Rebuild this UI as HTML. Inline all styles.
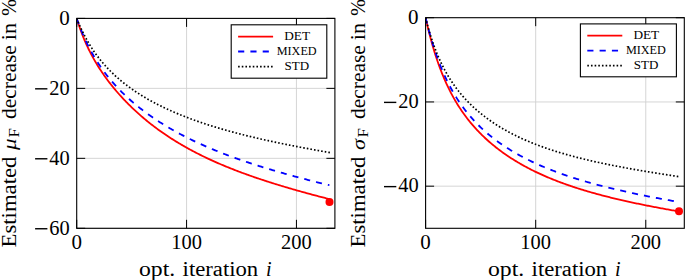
<!DOCTYPE html>
<html><head><meta charset="utf-8"><style>
html,body{margin:0;padding:0;background:#fff;width:685px;height:280px;overflow:hidden}
svg{display:block}
text{font-family:"Liberation Serif",serif;fill:#000}
</style></head><body>
<svg width="685" height="280" viewBox="0 0 685 280">
<rect width="685" height="280" fill="#fff"/>
<line x1="186.57" y1="18.40" x2="186.57" y2="228.30" stroke="#d0d0d0" stroke-width="0.9"/>
<line x1="296.44" y1="18.40" x2="296.44" y2="228.30" stroke="#d0d0d0" stroke-width="0.9"/>
<line x1="76.70" y1="88.37" x2="334.90" y2="88.37" stroke="#d0d0d0" stroke-width="0.9"/>
<line x1="76.70" y1="158.33" x2="334.90" y2="158.33" stroke="#d0d0d0" stroke-width="0.9"/>
<line x1="76.70" y1="228.30" x2="334.90" y2="228.30" stroke="#d0d0d0" stroke-width="0.9"/>
<line x1="76.70" y1="228.30" x2="76.70" y2="219.80" stroke="#000" stroke-width="1.0"/>
<line x1="76.70" y1="18.40" x2="76.70" y2="26.90" stroke="#000" stroke-width="1.0"/>
<line x1="186.57" y1="228.30" x2="186.57" y2="219.80" stroke="#000" stroke-width="1.0"/>
<line x1="186.57" y1="18.40" x2="186.57" y2="26.90" stroke="#000" stroke-width="1.0"/>
<line x1="296.44" y1="228.30" x2="296.44" y2="219.80" stroke="#000" stroke-width="1.0"/>
<line x1="296.44" y1="18.40" x2="296.44" y2="26.90" stroke="#000" stroke-width="1.0"/>
<line x1="76.70" y1="18.40" x2="85.20" y2="18.40" stroke="#000" stroke-width="1.0"/>
<line x1="334.90" y1="18.40" x2="326.40" y2="18.40" stroke="#000" stroke-width="1.0"/>
<line x1="76.70" y1="88.37" x2="85.20" y2="88.37" stroke="#000" stroke-width="1.0"/>
<line x1="334.90" y1="88.37" x2="326.40" y2="88.37" stroke="#000" stroke-width="1.0"/>
<line x1="76.70" y1="158.33" x2="85.20" y2="158.33" stroke="#000" stroke-width="1.0"/>
<line x1="334.90" y1="158.33" x2="326.40" y2="158.33" stroke="#000" stroke-width="1.0"/>
<line x1="76.70" y1="228.30" x2="85.20" y2="228.30" stroke="#000" stroke-width="1.0"/>
<line x1="334.90" y1="228.30" x2="326.40" y2="228.30" stroke="#000" stroke-width="1.0"/>
<clipPath id="c0"><rect x="76.7" y="18.4" width="258.2" height="219.9"/></clipPath>
<polyline clip-path="url(#c0)" points="76.70,18.40 77.80,21.92 78.90,25.26 80.00,28.44 81.09,31.48 82.19,34.38 83.29,37.16 84.39,39.82 85.49,42.37 86.59,44.83 87.69,47.21 88.79,49.49 89.88,51.70 90.98,53.84 92.08,55.92 93.18,57.93 94.28,59.88 95.38,61.79 96.48,63.64 97.58,65.44 98.67,67.20 99.77,68.92 100.87,70.60 101.97,72.24 103.07,73.85 104.17,75.42 105.27,76.97 106.37,78.48 107.46,79.96 108.56,81.42 109.66,82.85 110.76,84.26 111.86,85.64 112.96,87.00 114.06,88.34 115.16,89.66 116.25,90.96 117.35,92.23 118.45,93.49 119.55,94.73 120.65,95.95 121.75,97.16 122.85,98.35 123.95,99.52 125.04,100.67 126.14,101.81 127.24,102.94 128.34,104.05 129.44,105.14 130.54,106.22 131.64,107.29 132.73,108.34 133.83,109.38 134.93,110.41 136.03,111.43 137.13,112.43 138.23,113.42 139.33,114.40 140.43,115.37 141.52,116.32 142.62,117.27 143.72,118.20 144.82,119.12 145.92,120.03 147.02,120.94 148.12,121.83 149.22,122.71 150.31,123.58 151.41,124.44 152.51,125.29 153.61,126.13 154.71,126.96 155.81,127.79 156.91,128.60 158.01,129.41 159.10,130.20 160.20,130.99 161.30,131.77 162.40,132.54 163.50,133.30 164.60,134.06 165.70,134.81 166.80,135.55 167.89,136.28 168.99,137.00 170.09,137.72 171.19,138.43 172.29,139.13 173.39,139.82 174.49,140.51 175.59,141.19 176.68,141.86 177.78,142.53 178.88,143.19 179.98,143.85 181.08,144.49 182.18,145.14 183.28,145.77 184.37,146.40 185.47,147.02 186.57,147.64 187.67,148.25 188.77,148.86 189.87,149.46 190.97,150.05 192.07,150.64 193.16,151.22 194.26,151.80 195.36,152.37 196.46,152.94 197.56,153.50 198.66,154.06 199.76,154.61 200.86,155.16 201.95,155.70 203.05,156.24 204.15,156.77 205.25,157.30 206.35,157.82 207.45,158.34 208.55,158.86 209.65,159.37 210.74,159.87 211.84,160.38 212.94,160.88 214.04,161.37 215.14,161.86 216.24,162.35 217.34,162.83 218.44,163.31 219.53,163.78 220.63,164.25 221.73,164.72 222.83,165.18 223.93,165.64 225.03,166.10 226.13,166.55 227.23,167.00 228.32,167.45 229.42,167.89 230.52,168.33 231.62,168.77 232.72,169.20 233.82,169.63 234.92,170.06 236.01,170.48 237.11,170.90 238.21,171.32 239.31,171.74 240.41,172.15 241.51,172.56 242.61,172.97 243.71,173.37 244.80,173.77 245.90,174.17 247.00,174.57 248.10,174.96 249.20,175.35 250.30,175.74 251.40,176.13 252.50,176.51 253.59,176.90 254.69,177.28 255.79,177.65 256.89,178.03 257.99,178.40 259.09,178.77 260.19,179.14 261.29,179.50 262.38,179.87 263.48,180.23 264.58,180.59 265.68,180.95 266.78,181.30 267.88,181.66 268.98,182.01 270.08,182.36 271.17,182.71 272.27,183.05 273.37,183.40 274.47,183.74 275.57,184.08 276.67,184.42 277.77,184.76 278.87,185.10 279.96,185.43 281.06,185.76 282.16,186.09 283.26,186.42 284.36,186.75 285.46,187.08 286.56,187.40 287.65,187.73 288.75,188.05 289.85,188.37 290.95,188.69 292.05,189.01 293.15,189.32 294.25,189.64 295.35,189.95 296.44,190.26 297.54,190.57 298.64,190.88 299.74,191.19 300.84,191.50 301.94,191.81 303.04,192.11 304.14,192.41 305.23,192.72 306.33,193.02 307.43,193.32 308.53,193.62 309.63,193.91 310.73,194.21 311.83,194.51 312.93,194.80 314.02,195.10 315.12,195.39 316.22,195.68 317.32,195.97 318.42,196.26 319.52,196.55 320.62,196.84 321.72,197.12 322.81,197.41 323.91,197.69 325.01,197.98 326.11,198.26 327.21,198.54 328.31,198.83 329.41,199.11" fill="none" stroke="#ff0000" stroke-width="1.8" stroke-dasharray="none" stroke-linecap="butt" stroke-linejoin="round"/>
<circle cx="329.5" cy="202.0" r="4.0" fill="#ff0000"/>
<polyline clip-path="url(#c0)" points="76.70,18.40 77.80,21.50 78.90,24.48 80.00,27.35 81.09,30.12 82.19,32.78 83.29,35.36 84.39,37.84 85.49,40.24 86.59,42.57 87.69,44.81 88.79,46.99 89.88,49.10 90.98,51.15 92.08,53.14 93.18,55.07 94.28,56.94 95.38,58.77 96.48,60.54 97.58,62.27 98.67,63.96 99.77,65.60 100.87,67.21 101.97,68.77 103.07,70.30 104.17,71.80 105.27,73.26 106.37,74.69 107.46,76.09 108.56,77.46 109.66,78.80 110.76,80.12 111.86,81.41 112.96,82.68 114.06,83.92 115.16,85.14 116.25,86.34 117.35,87.52 118.45,88.67 119.55,89.81 120.65,90.93 121.75,92.03 122.85,93.11 123.95,94.18 125.04,95.23 126.14,96.26 127.24,97.28 128.34,98.29 129.44,99.28 130.54,100.25 131.64,101.21 132.73,102.16 133.83,103.10 134.93,104.02 136.03,104.93 137.13,105.83 138.23,106.72 139.33,107.59 140.43,108.46 141.52,109.31 142.62,110.16 143.72,110.99 144.82,111.81 145.92,112.63 147.02,113.43 148.12,114.23 149.22,115.01 150.31,115.79 151.41,116.56 152.51,117.31 153.61,118.07 154.71,118.81 155.81,119.54 156.91,120.27 158.01,120.99 159.10,121.70 160.20,122.40 161.30,123.10 162.40,123.79 163.50,124.47 164.60,125.15 165.70,125.81 166.80,126.48 167.89,127.13 168.99,127.78 170.09,128.42 171.19,129.06 172.29,129.69 173.39,130.31 174.49,130.93 175.59,131.54 176.68,132.14 177.78,132.74 178.88,133.34 179.98,133.93 181.08,134.51 182.18,135.09 183.28,135.66 184.37,136.23 185.47,136.79 186.57,137.35 187.67,137.90 188.77,138.45 189.87,139.00 190.97,139.53 192.07,140.07 193.16,140.60 194.26,141.12 195.36,141.64 196.46,142.16 197.56,142.67 198.66,143.18 199.76,143.68 200.86,144.18 201.95,144.67 203.05,145.17 204.15,145.65 205.25,146.14 206.35,146.62 207.45,147.09 208.55,147.56 209.65,148.03 210.74,148.50 211.84,148.96 212.94,149.41 214.04,149.87 215.14,150.32 216.24,150.77 217.34,151.21 218.44,151.65 219.53,152.09 220.63,152.52 221.73,152.95 222.83,153.38 223.93,153.81 225.03,154.23 226.13,154.65 227.23,155.06 228.32,155.48 229.42,155.89 230.52,156.29 231.62,156.70 232.72,157.10 233.82,157.50 234.92,157.90 236.01,158.29 237.11,158.68 238.21,159.07 239.31,159.46 240.41,159.84 241.51,160.23 242.61,160.61 243.71,160.98 244.80,161.36 245.90,161.73 247.00,162.10 248.10,162.47 249.20,162.83 250.30,163.20 251.40,163.56 252.50,163.92 253.59,164.28 254.69,164.63 255.79,164.98 256.89,165.34 257.99,165.68 259.09,166.03 260.19,166.38 261.29,166.72 262.38,167.06 263.48,167.40 264.58,167.74 265.68,168.08 266.78,168.41 267.88,168.74 268.98,169.08 270.08,169.41 271.17,169.73 272.27,170.06 273.37,170.38 274.47,170.71 275.57,171.03 276.67,171.35 277.77,171.67 278.87,171.98 279.96,172.30 281.06,172.61 282.16,172.93 283.26,173.24 284.36,173.55 285.46,173.85 286.56,174.16 287.65,174.47 288.75,174.77 289.85,175.07 290.95,175.38 292.05,175.68 293.15,175.98 294.25,176.27 295.35,176.57 296.44,176.87 297.54,177.16 298.64,177.45 299.74,177.75 300.84,178.04 301.94,178.33 303.04,178.62 304.14,178.90 305.23,179.19 306.33,179.47 307.43,179.76 308.53,180.04 309.63,180.33 310.73,180.61 311.83,180.89 312.93,181.17 314.02,181.44 315.12,181.72 316.22,182.00 317.32,182.27 318.42,182.55 319.52,182.82 320.62,183.10 321.72,183.37 322.81,183.64 323.91,183.91 325.01,184.18 326.11,184.45 327.21,184.72 328.31,184.98 329.41,185.25" fill="none" stroke="#0000ff" stroke-width="1.8" stroke-dasharray="6.08 6.07" stroke-linecap="butt" stroke-linejoin="round"/>
<polyline clip-path="url(#c0)" points="76.70,18.40 77.80,21.11 78.90,23.72 80.00,26.23 81.11,28.64 82.21,30.97 83.31,33.21 84.41,35.38 85.51,37.46 86.61,39.48 87.72,41.43 88.82,43.31 89.92,45.14 91.02,46.91 92.12,48.62 93.22,50.28 94.33,51.90 95.43,53.46 96.53,54.98 97.63,56.47 98.73,57.91 99.83,59.31 100.93,60.67 102.04,62.00 103.14,63.30 104.24,64.57 105.34,65.80 106.44,67.01 107.54,68.19 108.65,69.34 109.75,70.47 110.85,71.57 111.95,72.65 113.05,73.71 114.15,74.75 115.26,75.76 116.36,76.76 117.46,77.74 118.56,78.69 119.66,79.63 120.76,80.56 121.87,81.46 122.97,82.35 124.07,83.23 125.17,84.09 126.27,84.94 127.37,85.77 128.47,86.59 129.58,87.39 130.68,88.18 131.78,88.96 132.88,89.73 133.98,90.49 135.08,91.23 136.19,91.97 137.29,92.69 138.39,93.41 139.49,94.11 140.59,94.80 141.69,95.49 142.80,96.16 143.90,96.82 145.00,97.48 146.10,98.13 147.20,98.77 148.30,99.40 149.40,100.02 150.51,100.64 151.61,101.24 152.71,101.84 153.81,102.43 154.91,103.02 156.01,103.60 157.12,104.17 158.22,104.73 159.32,105.29 160.42,105.84 161.52,106.38 162.62,106.92 163.73,107.45 164.83,107.98 165.93,108.50 167.03,109.01 168.13,109.52 169.23,110.02 170.34,110.52 171.44,111.01 172.54,111.49 173.64,111.97 174.74,112.45 175.84,112.92 176.94,113.39 178.05,113.85 179.15,114.30 180.25,114.76 181.35,115.20 182.45,115.65 183.55,116.08 184.66,116.52 185.76,116.95 186.86,117.37 187.96,117.79 189.06,118.21 190.16,118.62 191.27,119.03 192.37,119.44 193.47,119.84 194.57,120.23 195.67,120.63 196.77,121.02 197.87,121.40 198.98,121.79 200.08,122.16 201.18,122.54 202.28,122.91 203.38,123.28 204.48,123.65 205.59,124.01 206.69,124.37 207.79,124.73 208.89,125.08 209.99,125.43 211.09,125.78 212.20,126.12 213.30,126.46 214.40,126.80 215.50,127.14 216.60,127.47 217.70,127.80 218.81,128.13 219.91,128.45 221.01,128.78 222.11,129.10 223.21,129.41 224.31,129.73 225.41,130.04 226.52,130.35 227.62,130.66 228.72,130.97 229.82,131.27 230.92,131.57 232.02,131.87 233.13,132.17 234.23,132.46 235.33,132.75 236.43,133.04 237.53,133.33 238.63,133.62 239.74,133.90 240.84,134.19 241.94,134.47 243.04,134.74 244.14,135.02 245.24,135.30 246.34,135.57 247.45,135.84 248.55,136.11 249.65,136.38 250.75,136.64 251.85,136.91 252.95,137.17 254.06,137.43 255.16,137.69 256.26,137.95 257.36,138.21 258.46,138.46 259.56,138.71 260.67,138.97 261.77,139.22 262.87,139.47 263.97,139.71 265.07,139.96 266.17,140.20 267.28,140.45 268.38,140.69 269.48,140.93 270.58,141.17 271.68,141.41 272.78,141.65 273.88,141.88 274.99,142.12 276.09,142.35 277.19,142.58 278.29,142.81 279.39,143.04 280.49,143.27 281.60,143.50 282.70,143.73 283.80,143.95 284.90,144.18 286.00,144.40 287.10,144.62 288.21,144.84 289.31,145.06 290.41,145.28 291.51,145.50 292.61,145.72 293.71,145.93 294.81,146.15 295.92,146.36 297.02,146.58 298.12,146.79 299.22,147.00 300.32,147.21 301.42,147.42 302.53,147.63 303.63,147.84 304.73,148.05 305.83,148.26 306.93,148.46 308.03,148.67 309.14,148.87 310.24,149.08 311.34,149.28 312.44,149.48 313.54,149.69 314.64,149.89 315.74,150.09 316.85,150.29 317.95,150.49 319.05,150.69 320.15,150.88 321.25,151.08 322.35,151.28 323.46,151.47 324.56,151.67 325.66,151.86 326.76,152.06 327.86,152.25 328.96,152.44 330.07,152.64" fill="none" stroke="#000000" stroke-width="1.7" stroke-dasharray="1.6 2.046" stroke-linecap="butt" stroke-linejoin="round"/>
<rect x="76.70" y="18.40" width="258.20" height="209.90" fill="none" stroke="#000" stroke-width="1.1"/>
<rect x="231.2" y="24.8" width="95.60000000000002" height="53.400000000000006" fill="#fff" stroke="#000" stroke-width="1.1"/>
<line x1="238.1" y1="36.6" x2="273.1" y2="36.6" stroke="#ff0000" stroke-width="1.8" stroke-dasharray="none" stroke-linecap="butt"/>
<text x="284.20" y="40.0" font-size="13.4" textLength="25.8" lengthAdjust="spacingAndGlyphs">DET</text>
<line x1="238.1" y1="51.5" x2="273.1" y2="51.5" stroke="#0000ff" stroke-width="1.8" stroke-dasharray="6.15 6.15" stroke-linecap="butt"/>
<text x="276.70" y="54.8" font-size="13.4" textLength="40.0" lengthAdjust="spacingAndGlyphs">MIXED</text>
<line x1="238.1" y1="66.6" x2="273.1" y2="66.6" stroke="#000000" stroke-width="1.7" stroke-dasharray="1.6 2.06" stroke-linecap="butt"/>
<text x="284.60" y="69.8" font-size="13.4" textLength="24.6" lengthAdjust="spacingAndGlyphs">STD</text>
<text x="69.70" y="24.70" text-anchor="end" font-size="21">0</text>
<text x="69.70" y="94.67" text-anchor="end" font-size="21" textLength="20.4" lengthAdjust="spacingAndGlyphs">20</text>
<rect x="35.10" y="88.12" width="12.30" height="1.4" fill="#000"/>
<text x="69.70" y="164.63" text-anchor="end" font-size="21" textLength="20.4" lengthAdjust="spacingAndGlyphs">40</text>
<rect x="35.10" y="158.08" width="12.30" height="1.4" fill="#000"/>
<text x="69.70" y="234.60" text-anchor="end" font-size="21" textLength="20.4" lengthAdjust="spacingAndGlyphs">60</text>
<rect x="35.10" y="228.05" width="12.30" height="1.4" fill="#000"/>
<text x="76.70" y="248.6" text-anchor="middle" font-size="21">0</text>
<text x="186.57" y="248.6" text-anchor="middle" font-size="21" textLength="30.7" lengthAdjust="spacingAndGlyphs">100</text>
<text x="296.44" y="248.6" text-anchor="middle" font-size="21" textLength="30.7" lengthAdjust="spacingAndGlyphs">200</text>
<text x="139.0" y="275.5" font-size="20.0" textLength="36.2" lengthAdjust="spacingAndGlyphs">opt.</text>
<text x="182.6" y="275.5" font-size="20.0" textLength="75.6" lengthAdjust="spacingAndGlyphs">iteration</text>
<text x="266.0" y="275.5" font-size="20.0" font-style="italic">i</text>
<g transform="translate(16.0,247.0) rotate(-90)" font-size="20.0">
<text x="-0.5" y="0" textLength="91.0" lengthAdjust="spacingAndGlyphs">Estimated</text>
<text x="97.0" y="0" textLength="11.5" lengthAdjust="spacingAndGlyphs" font-style="italic" font-size="18">μ</text>
<text x="109.6" y="3.2" textLength="9.4" lengthAdjust="spacingAndGlyphs" font-size="14.5">F</text>
<text x="128.0" y="0" textLength="73.8" lengthAdjust="spacingAndGlyphs">decrease</text>
<text x="206.8" y="0" textLength="17.2" lengthAdjust="spacingAndGlyphs">in</text>
<text x="231.0" y="0" textLength="17.0" lengthAdjust="spacingAndGlyphs" font-size="21">%</text>
</g>
<line x1="535.69" y1="17.70" x2="535.69" y2="228.30" stroke="#d0d0d0" stroke-width="0.9"/>
<line x1="645.77" y1="17.70" x2="645.77" y2="228.30" stroke="#d0d0d0" stroke-width="0.9"/>
<line x1="425.60" y1="101.94" x2="684.30" y2="101.94" stroke="#d0d0d0" stroke-width="0.9"/>
<line x1="425.60" y1="186.18" x2="684.30" y2="186.18" stroke="#d0d0d0" stroke-width="0.9"/>
<line x1="425.60" y1="228.30" x2="425.60" y2="219.80" stroke="#000" stroke-width="1.0"/>
<line x1="425.60" y1="17.70" x2="425.60" y2="26.20" stroke="#000" stroke-width="1.0"/>
<line x1="535.69" y1="228.30" x2="535.69" y2="219.80" stroke="#000" stroke-width="1.0"/>
<line x1="535.69" y1="17.70" x2="535.69" y2="26.20" stroke="#000" stroke-width="1.0"/>
<line x1="645.77" y1="228.30" x2="645.77" y2="219.80" stroke="#000" stroke-width="1.0"/>
<line x1="645.77" y1="17.70" x2="645.77" y2="26.20" stroke="#000" stroke-width="1.0"/>
<line x1="425.60" y1="17.70" x2="434.10" y2="17.70" stroke="#000" stroke-width="1.0"/>
<line x1="684.30" y1="17.70" x2="675.80" y2="17.70" stroke="#000" stroke-width="1.0"/>
<line x1="425.60" y1="101.94" x2="434.10" y2="101.94" stroke="#000" stroke-width="1.0"/>
<line x1="684.30" y1="101.94" x2="675.80" y2="101.94" stroke="#000" stroke-width="1.0"/>
<line x1="425.60" y1="186.18" x2="434.10" y2="186.18" stroke="#000" stroke-width="1.0"/>
<line x1="684.30" y1="186.18" x2="675.80" y2="186.18" stroke="#000" stroke-width="1.0"/>
<clipPath id="c349"><rect x="425.6" y="17.7" width="258.69999999999993" height="220.60000000000002"/></clipPath>
<polyline clip-path="url(#c349)" points="425.60,17.70 426.70,22.61 427.80,27.31 428.90,31.80 430.00,36.11 431.10,40.23 432.21,44.19 433.31,47.98 434.41,51.63 435.51,55.13 436.61,58.49 437.71,61.73 438.81,64.85 439.91,67.86 441.01,70.75 442.11,73.55 443.21,76.24 444.31,78.85 445.42,81.37 446.52,83.80 447.62,86.16 448.72,88.44 449.82,90.65 450.92,92.79 452.02,94.87 453.12,96.89 454.22,98.85 455.32,100.76 456.42,102.61 457.52,104.41 458.63,106.16 459.73,107.87 460.83,109.54 461.93,111.16 463.03,112.74 464.13,114.28 465.23,115.79 466.33,117.26 467.43,118.69 468.53,120.10 469.63,121.47 470.73,122.81 471.84,124.13 472.94,125.41 474.04,126.67 475.14,127.91 476.24,129.11 477.34,130.30 478.44,131.46 479.54,132.60 480.64,133.72 481.74,134.81 482.84,135.89 483.95,136.94 485.05,137.98 486.15,139.00 487.25,140.00 488.35,140.99 489.45,141.95 490.55,142.90 491.65,143.84 492.75,144.76 493.85,145.66 494.95,146.55 496.05,147.43 497.16,148.29 498.26,149.14 499.36,149.98 500.46,150.80 501.56,151.61 502.66,152.41 503.76,153.19 504.86,153.97 505.96,154.73 507.06,155.49 508.16,156.23 509.26,156.96 510.37,157.68 511.47,158.39 512.57,159.09 513.67,159.78 514.77,160.46 515.87,161.14 516.97,161.80 518.07,162.45 519.17,163.10 520.27,163.74 521.37,164.37 522.47,164.99 523.58,165.60 524.68,166.20 525.78,166.80 526.88,167.39 527.98,167.97 529.08,168.55 530.18,169.12 531.28,169.68 532.38,170.23 533.48,170.78 534.58,171.32 535.69,171.85 536.79,172.38 537.89,172.90 538.99,173.41 540.09,173.92 541.19,174.43 542.29,174.92 543.39,175.41 544.49,175.90 545.59,176.38 546.69,176.85 547.79,177.32 548.90,177.79 550.00,178.25 551.10,178.70 552.20,179.15 553.30,179.59 554.40,180.03 555.50,180.46 556.60,180.89 557.70,181.32 558.80,181.74 559.90,182.15 561.00,182.57 562.11,182.97 563.21,183.38 564.31,183.77 565.41,184.17 566.51,184.56 567.61,184.95 568.71,185.33 569.81,185.71 570.91,186.08 572.01,186.45 573.11,186.82 574.21,187.18 575.32,187.55 576.42,187.90 577.52,188.26 578.62,188.61 579.72,188.95 580.82,189.30 581.92,189.64 583.02,189.97 584.12,190.31 585.22,190.64 586.32,190.97 587.43,191.29 588.53,191.61 589.63,191.93 590.73,192.25 591.83,192.56 592.93,192.88 594.03,193.18 595.13,193.49 596.23,193.79 597.33,194.09 598.43,194.39 599.53,194.69 600.64,194.98 601.74,195.27 602.84,195.56 603.94,195.84 605.04,196.13 606.14,196.41 607.24,196.69 608.34,196.97 609.44,197.24 610.54,197.51 611.64,197.78 612.74,198.05 613.85,198.32 614.95,198.58 616.05,198.85 617.15,199.11 618.25,199.37 619.35,199.62 620.45,199.88 621.55,200.13 622.65,200.39 623.75,200.64 624.85,200.88 625.95,201.13 627.06,201.37 628.16,201.62 629.26,201.86 630.36,202.10 631.46,202.34 632.56,202.58 633.66,202.81 634.76,203.05 635.86,203.28 636.96,203.51 638.06,203.74 639.17,203.97 640.27,204.19 641.37,204.42 642.47,204.64 643.57,204.87 644.67,205.09 645.77,205.31 646.87,205.53 647.97,205.75 649.07,205.96 650.17,206.18 651.27,206.39 652.38,206.61 653.48,206.82 654.58,207.03 655.68,207.24 656.78,207.45 657.88,207.66 658.98,207.86 660.08,208.07 661.18,208.27 662.28,208.48 663.38,208.68 664.48,208.88 665.59,209.08 666.69,209.28 667.79,209.48 668.89,209.68 669.99,209.88 671.09,210.07 672.19,210.27 673.29,210.46 674.39,210.66 675.49,210.85 676.59,211.04 677.69,211.23 678.80,211.42" fill="none" stroke="#ff0000" stroke-width="1.8" stroke-dasharray="none" stroke-linecap="butt" stroke-linejoin="round"/>
<circle cx="679.0" cy="211.2" r="4.0" fill="#ff0000"/>
<polyline clip-path="url(#c349)" points="425.60,17.70 426.70,22.22 427.80,26.55 428.90,30.71 430.00,34.70 431.10,38.54 432.21,42.23 433.31,45.78 434.41,49.20 435.51,52.49 436.61,55.66 437.71,58.71 438.81,61.66 439.91,64.51 441.01,67.25 442.11,69.90 443.21,72.47 444.31,74.95 445.42,77.34 446.52,79.67 447.62,81.91 448.72,84.09 449.82,86.20 450.92,88.25 452.02,90.24 453.12,92.17 454.22,94.05 455.32,95.87 456.42,97.64 457.52,99.36 458.63,101.04 459.73,102.68 460.83,104.27 461.93,105.82 463.03,107.33 464.13,108.80 465.23,110.24 466.33,111.65 467.43,113.02 468.53,114.36 469.63,115.67 470.73,116.95 471.84,118.20 472.94,119.42 474.04,120.62 475.14,121.80 476.24,122.95 477.34,124.07 478.44,125.18 479.54,126.26 480.64,127.32 481.74,128.36 482.84,129.38 483.95,130.38 485.05,131.37 486.15,132.33 487.25,133.28 488.35,134.21 489.45,135.13 490.55,136.03 491.65,136.91 492.75,137.78 493.85,138.64 494.95,139.48 496.05,140.30 497.16,141.12 498.26,141.92 499.36,142.71 500.46,143.49 501.56,144.25 502.66,145.01 503.76,145.75 504.86,146.48 505.96,147.20 507.06,147.91 508.16,148.61 509.26,149.30 510.37,149.98 511.47,150.65 512.57,151.32 513.67,151.97 514.77,152.61 515.87,153.25 516.97,153.88 518.07,154.49 519.17,155.10 520.27,155.71 521.37,156.30 522.47,156.89 523.58,157.47 524.68,158.04 525.78,158.61 526.88,159.17 527.98,159.72 529.08,160.26 530.18,160.80 531.28,161.33 532.38,161.86 533.48,162.38 534.58,162.89 535.69,163.40 536.79,163.90 537.89,164.40 538.99,164.89 540.09,165.37 541.19,165.85 542.29,166.32 543.39,166.79 544.49,167.25 545.59,167.71 546.69,168.16 547.79,168.61 548.90,169.06 550.00,169.49 551.10,169.93 552.20,170.36 553.30,170.78 554.40,171.20 555.50,171.62 556.60,172.03 557.70,172.44 558.80,172.84 559.90,173.24 561.00,173.64 562.11,174.03 563.21,174.42 564.31,174.80 565.41,175.18 566.51,175.55 567.61,175.93 568.71,176.30 569.81,176.66 570.91,177.02 572.01,177.38 573.11,177.74 574.21,178.09 575.32,178.44 576.42,178.78 577.52,179.13 578.62,179.47 579.72,179.80 580.82,180.14 581.92,180.47 583.02,180.79 584.12,181.12 585.22,181.44 586.32,181.76 587.43,182.08 588.53,182.39 589.63,182.70 590.73,183.01 591.83,183.32 592.93,183.62 594.03,183.92 595.13,184.22 596.23,184.52 597.33,184.81 598.43,185.10 599.53,185.39 600.64,185.68 601.74,185.96 602.84,186.24 603.94,186.52 605.04,186.80 606.14,187.08 607.24,187.35 608.34,187.63 609.44,187.90 610.54,188.16 611.64,188.43 612.74,188.69 613.85,188.96 614.95,189.22 616.05,189.48 617.15,189.73 618.25,189.99 619.35,190.24 620.45,190.49 621.55,190.74 622.65,190.99 623.75,191.24 624.85,191.48 625.95,191.73 627.06,191.97 628.16,192.21 629.26,192.45 630.36,192.69 631.46,192.92 632.56,193.16 633.66,193.39 634.76,193.62 635.86,193.85 636.96,194.08 638.06,194.31 639.17,194.54 640.27,194.76 641.37,194.99 642.47,195.21 643.57,195.43 644.67,195.65 645.77,195.87 646.87,196.09 647.97,196.30 649.07,196.52 650.17,196.73 651.27,196.95 652.38,197.16 653.48,197.37 654.58,197.58 655.68,197.79 656.78,198.00 657.88,198.20 658.98,198.41 660.08,198.62 661.18,198.82 662.28,199.02 663.38,199.22 664.48,199.43 665.59,199.63 666.69,199.83 667.79,200.02 668.89,200.22 669.99,200.42 671.09,200.61 672.19,200.81 673.29,201.00 674.39,201.20 675.49,201.39 676.59,201.58 677.69,201.77 678.80,201.96" fill="none" stroke="#0000ff" stroke-width="1.8" stroke-dasharray="6.08 6.07" stroke-linecap="butt" stroke-linejoin="round"/>
<polyline clip-path="url(#c349)" points="425.60,17.70 426.70,22.04 427.81,26.15 428.91,30.05 430.01,33.76 431.12,37.29 432.22,40.66 433.33,43.86 434.43,46.93 435.53,49.85 436.64,52.65 437.74,55.33 438.84,57.90 439.95,60.37 441.05,62.74 442.16,65.02 443.26,67.21 444.36,69.32 445.47,71.36 446.57,73.33 447.67,75.23 448.78,77.07 449.88,78.84 450.99,80.57 452.09,82.24 453.19,83.86 454.30,85.43 455.40,86.96 456.50,88.44 457.61,89.89 458.71,91.29 459.82,92.66 460.92,94.00 462.02,95.30 463.13,96.57 464.23,97.81 465.33,99.02 466.44,100.21 467.54,101.36 468.65,102.50 469.75,103.60 470.85,104.69 471.96,105.75 473.06,106.79 474.16,107.80 475.27,108.80 476.37,109.78 477.47,110.74 478.58,111.68 479.68,112.60 480.79,113.51 481.89,114.40 482.99,115.28 484.10,116.13 485.20,116.98 486.30,117.81 487.41,118.62 488.51,119.42 489.62,120.21 490.72,120.98 491.82,121.74 492.93,122.49 494.03,123.23 495.13,123.95 496.24,124.67 497.34,125.37 498.45,126.06 499.55,126.74 500.65,127.41 501.76,128.07 502.86,128.72 503.96,129.36 505.07,129.99 506.17,130.61 507.28,131.22 508.38,131.82 509.48,132.42 510.59,133.00 511.69,133.58 512.79,134.15 513.90,134.71 515.00,135.26 516.11,135.80 517.21,136.34 518.31,136.87 519.42,137.39 520.52,137.91 521.62,138.42 522.73,138.92 523.83,139.42 524.94,139.90 526.04,140.39 527.14,140.86 528.25,141.33 529.35,141.79 530.45,142.25 531.56,142.70 532.66,143.15 533.76,143.59 534.87,144.02 535.97,144.45 537.08,144.88 538.18,145.30 539.28,145.71 540.39,146.12 541.49,146.52 542.59,146.92 543.70,147.32 544.80,147.70 545.91,148.09 547.01,148.47 548.11,148.85 549.22,149.22 550.32,149.58 551.42,149.95 552.53,150.31 553.63,150.66 554.74,151.01 555.84,151.36 556.94,151.70 558.05,152.04 559.15,152.38 560.25,152.71 561.36,153.04 562.46,153.37 563.57,153.69 564.67,154.01 565.77,154.32 566.88,154.63 567.98,154.94 569.08,155.25 570.19,155.55 571.29,155.85 572.40,156.15 573.50,156.44 574.60,156.74 575.71,157.02 576.81,157.31 577.91,157.59 579.02,157.87 580.12,158.15 581.22,158.43 582.33,158.70 583.43,158.97 584.54,159.24 585.64,159.50 586.74,159.77 587.85,160.03 588.95,160.29 590.05,160.54 591.16,160.80 592.26,161.05 593.37,161.30 594.47,161.55 595.57,161.80 596.68,162.04 597.78,162.28 598.88,162.52 599.99,162.76 601.09,163.00 602.20,163.24 603.30,163.47 604.40,163.70 605.51,163.93 606.61,164.16 607.71,164.39 608.82,164.61 609.92,164.83 611.03,165.06 612.13,165.28 613.23,165.50 614.34,165.71 615.44,165.93 616.54,166.15 617.65,166.36 618.75,166.57 619.86,166.78 620.96,166.99 622.06,167.20 623.17,167.41 624.27,167.61 625.37,167.82 626.48,168.02 627.58,168.22 628.69,168.42 629.79,168.62 630.89,168.82 632.00,169.02 633.10,169.21 634.20,169.41 635.31,169.60 636.41,169.80 637.51,169.99 638.62,170.18 639.72,170.37 640.83,170.56 641.93,170.75 643.03,170.94 644.14,171.13 645.24,171.31 646.34,171.50 647.45,171.68 648.55,171.86 649.66,172.05 650.76,172.23 651.86,172.41 652.97,172.59 654.07,172.77 655.17,172.95 656.28,173.13 657.38,173.30 658.49,173.48 659.59,173.66 660.69,173.83 661.80,174.01 662.90,174.18 664.00,174.35 665.11,174.53 666.21,174.70 667.32,174.87 668.42,175.04 669.52,175.21 670.63,175.38 671.73,175.55 672.83,175.72 673.94,175.89 675.04,176.06 676.15,176.22 677.25,176.39 678.35,176.55 679.46,176.72" fill="none" stroke="#000000" stroke-width="1.7" stroke-dasharray="1.6 2.046" stroke-linecap="butt" stroke-linejoin="round"/>
<rect x="425.60" y="17.70" width="258.70" height="210.60" fill="none" stroke="#000" stroke-width="1.1"/>
<rect x="580.4" y="23.9" width="96.0" height="52.9" fill="#fff" stroke="#000" stroke-width="1.1"/>
<line x1="587.3" y1="35.7" x2="622.3" y2="35.7" stroke="#ff0000" stroke-width="1.8" stroke-dasharray="none" stroke-linecap="butt"/>
<text x="633.40" y="38.8" font-size="13.4" textLength="25.8" lengthAdjust="spacingAndGlyphs">DET</text>
<line x1="587.3" y1="50.6" x2="622.3" y2="50.6" stroke="#0000ff" stroke-width="1.8" stroke-dasharray="6.15 6.15" stroke-linecap="butt"/>
<text x="625.90" y="53.7" font-size="13.4" textLength="40.0" lengthAdjust="spacingAndGlyphs">MIXED</text>
<line x1="587.3" y1="65.7" x2="622.3" y2="65.7" stroke="#000000" stroke-width="1.7" stroke-dasharray="1.6 2.06" stroke-linecap="butt"/>
<text x="633.80" y="68.7" font-size="13.4" textLength="24.6" lengthAdjust="spacingAndGlyphs">STD</text>
<text x="418.60" y="24.00" text-anchor="end" font-size="21">0</text>
<text x="418.60" y="108.24" text-anchor="end" font-size="21" textLength="20.4" lengthAdjust="spacingAndGlyphs">20</text>
<rect x="384.00" y="101.69" width="12.30" height="1.4" fill="#000"/>
<text x="418.60" y="192.48" text-anchor="end" font-size="21" textLength="20.4" lengthAdjust="spacingAndGlyphs">40</text>
<rect x="384.00" y="185.93" width="12.30" height="1.4" fill="#000"/>
<text x="425.60" y="248.6" text-anchor="middle" font-size="21">0</text>
<text x="535.69" y="248.6" text-anchor="middle" font-size="21" textLength="30.7" lengthAdjust="spacingAndGlyphs">100</text>
<text x="645.77" y="248.6" text-anchor="middle" font-size="21" textLength="30.7" lengthAdjust="spacingAndGlyphs">200</text>
<text x="488.0" y="275.5" font-size="20.0" textLength="36.2" lengthAdjust="spacingAndGlyphs">opt.</text>
<text x="531.6" y="275.5" font-size="20.0" textLength="75.6" lengthAdjust="spacingAndGlyphs">iteration</text>
<text x="615.0" y="275.5" font-size="20.0" font-style="italic">i</text>
<g transform="translate(365.0,247.0) rotate(-90)" font-size="20.0">
<text x="-0.5" y="0" textLength="91.0" lengthAdjust="spacingAndGlyphs">Estimated</text>
<text x="97.0" y="0" textLength="11.0" lengthAdjust="spacingAndGlyphs" font-style="italic" font-size="19">σ</text>
<text x="109.6" y="3.2" textLength="9.4" lengthAdjust="spacingAndGlyphs" font-size="14.5">F</text>
<text x="128.0" y="0" textLength="73.8" lengthAdjust="spacingAndGlyphs">decrease</text>
<text x="206.8" y="0" textLength="17.2" lengthAdjust="spacingAndGlyphs">in</text>
<text x="231.0" y="0" textLength="17.0" lengthAdjust="spacingAndGlyphs" font-size="21">%</text>
</g>
</svg>
</body></html>
